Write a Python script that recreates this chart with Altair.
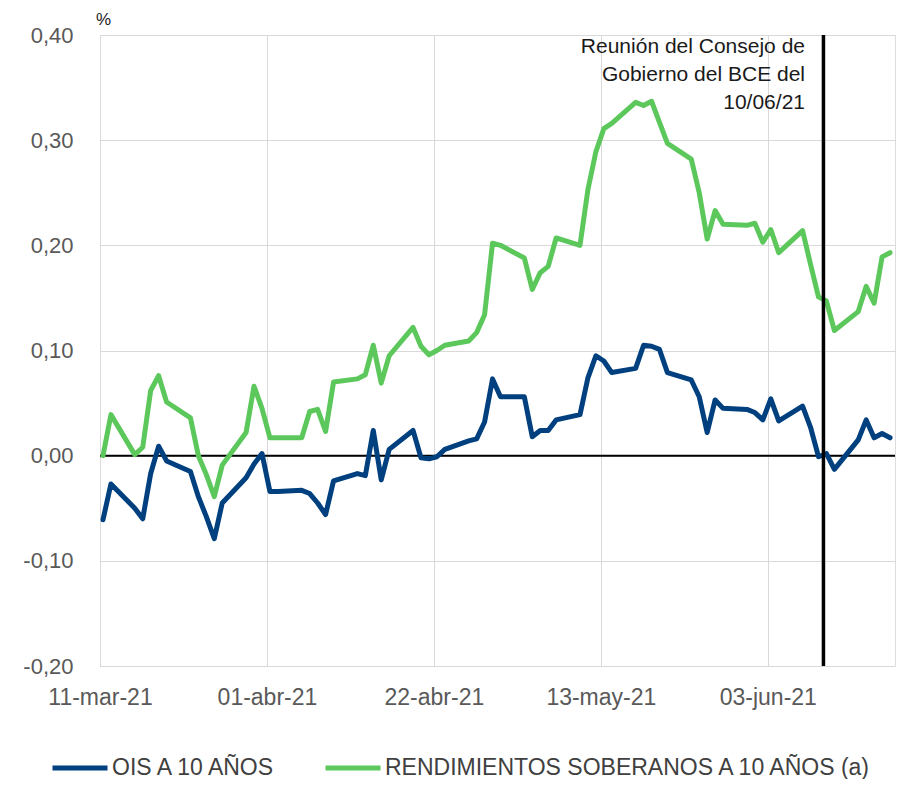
import altair as alt
import pandas as pd

fechas = [
    "2021-03-11", "2021-03-12", "2021-03-15", "2021-03-16", "2021-03-17", "2021-03-18", "2021-03-19",
    "2021-03-22", "2021-03-23", "2021-03-24", "2021-03-25", "2021-03-26",
    "2021-03-29", "2021-03-30", "2021-03-31", "2021-04-01", "2021-04-02",
    "2021-04-05", "2021-04-06", "2021-04-07", "2021-04-08", "2021-04-09",
    "2021-04-12", "2021-04-13", "2021-04-14", "2021-04-15", "2021-04-16",
    "2021-04-19", "2021-04-20", "2021-04-21", "2021-04-22", "2021-04-23",
    "2021-04-26", "2021-04-27", "2021-04-28", "2021-04-29", "2021-04-30",
    "2021-05-03", "2021-05-04", "2021-05-05", "2021-05-06", "2021-05-07",
    "2021-05-10", "2021-05-11", "2021-05-12", "2021-05-13", "2021-05-14",
    "2021-05-17", "2021-05-18", "2021-05-19", "2021-05-20", "2021-05-21",
    "2021-05-24", "2021-05-25", "2021-05-26", "2021-05-27", "2021-05-28",
    "2021-05-31", "2021-06-01", "2021-06-02", "2021-06-03", "2021-06-04",
    "2021-06-07", "2021-06-08", "2021-06-09", "2021-06-10", "2021-06-11",
    "2021-06-14", "2021-06-15", "2021-06-16", "2021-06-17", "2021-06-18",
]

ois_10a = [
    -0.061, -0.027, -0.050, -0.060, -0.017, 0.009, -0.005,
    -0.015, -0.039, -0.058, -0.079, -0.045,
    -0.021, -0.008, 0.002, -0.034, -0.034,
    -0.033, -0.036, -0.045, -0.056, -0.024,
    -0.017, -0.019, 0.024, -0.023, 0.006,
    0.024, -0.002, -0.003, -0.001, 0.006,
    0.014, 0.016, 0.032, 0.073, 0.056,
    0.056, 0.018, 0.024, 0.024, 0.034,
    0.039, 0.074, 0.095, 0.090, 0.079,
    0.083, 0.105, 0.104, 0.101, 0.079,
    0.072, 0.056, 0.022, 0.053, 0.045,
    0.044, 0.041, 0.034, 0.054, 0.033,
    0.047, 0.027, -0.001, 0.002, -0.013,
    0.015, 0.034, 0.017, 0.021, 0.017,
]

soberanos_10a = [
    0.000, 0.039, 0.001, 0.008, 0.062, 0.076, 0.051,
    0.036, 0.000, -0.018, -0.039, -0.009,
    0.022, 0.066, 0.045, 0.017, 0.017,
    0.017, 0.042, 0.044, 0.023, 0.070,
    0.073, 0.077, 0.105, 0.069, 0.095,
    0.122, 0.104, 0.096, 0.100, 0.105,
    0.109, 0.117, 0.134, 0.202, 0.200,
    0.188, 0.158, 0.174, 0.180, 0.207,
    0.200, 0.253, 0.289, 0.311, 0.316,
    0.336, 0.333, 0.337, 0.317, 0.297,
    0.282, 0.250, 0.206, 0.233, 0.220,
    0.219, 0.221, 0.203, 0.215, 0.193,
    0.214, 0.182, 0.151, 0.147, 0.119,
    0.137, 0.161, 0.145, 0.189, 0.193,
]

series = ["OIS A 10 AÑOS", "RENDIMIENTOS SOBERANOS A 10 AÑOS (a)"]
colores = ["#00407f", "#5cc85c"]

y_ticks = [-0.2, -0.1, 0.0, 0.1, 0.2, 0.3, 0.4]
x_ticks = ["2021-03-11", "2021-04-01", "2021-04-22", "2021-05-13", "2021-06-03"]
x_tick_labels = ["11-mar-21", "01-abr-21", "22-abr-21", "13-may-21", "03-jun-21"]
x_domain = ["2021-03-11", "2021-06-19"]
fecha_reunion = "2021-06-10"
nota = ["Reunión del Consejo de", "Gobierno del BCE del", "10/06/21"]
unidad = "%"

FONT = "Liberation Sans"


def ms(s):
    return int(pd.Timestamp(s, tz="UTC").timestamp() * 1000)


rows = []
for f, a, b in zip(fechas, ois_10a, soberanos_10a):
    rows.append({"fecha": f + "T09:00:00Z", "serie": series[0], "valor": a})
    rows.append({"fecha": f + "T09:00:00Z", "serie": series[1], "valor": b})
df = pd.DataFrame(rows)

x_label_expr = (
    "[" + ",".join("'" + l + "'" for l in x_tick_labels) + "]"
    + "[indexof([" + ",".join("'" + t + "'" for t in x_ticks) + "], utcFormat(datum.value, '%Y-%m-%d'))]"
)
y_label_expr = "replace(replace(format(datum.value, '.2f'), '.', ','), '\u2212', '-')"

x_scale = alt.Scale(type="utc", domain=[ms(d) for d in x_domain], nice=False)
y_scale = alt.Scale(domain=[y_ticks[0], y_ticks[-1]], nice=False, zero=False)

x_axis = alt.Axis(
    values=[ms(t) for t in x_ticks], labelExpr=x_label_expr, title=None,
    grid=True, gridColor="#d9d9d9", gridWidth=1, ticks=False,
    domain=True, domainColor="#d9d9d9", labelPadding=20,
    labelFontSize=23, labelColor="#595959", labelFont=FONT,
    labelFlush=False, labelOverlap=False, labelBound=False,
)
y_axis = alt.Axis(
    values=y_ticks, labelExpr=y_label_expr, title=None,
    grid=True, gridColor="#d9d9d9", gridWidth=1, ticks=False,
    domain=True, domainColor="#d9d9d9", labelPadding=27,
    labelFontSize=22, labelColor="#595959", labelFont=FONT,
)

lines = alt.Chart(df).mark_line(strokeWidth=5, strokeCap="round", strokeJoin="round").encode(
    x=alt.X("fecha:T", scale=x_scale, axis=x_axis),
    y=alt.Y("valor:Q", scale=y_scale, axis=y_axis),
    color=alt.Color(
        "serie:N",
        scale=alt.Scale(domain=series, range=colores),
        sort=series,
        legend=alt.Legend(
            orient="none", legendX=-50, legendY=703, direction="horizontal",
            title=None, symbolType="stroke", symbolSize=3025, symbolStrokeWidth=5,
            labelFontSize=23, labelFont=FONT, labelColor="#404040", labelOffset=2,
            columnPadding=38, labelLimit=0,
        ),
    ),
    detail="serie:N",
)

cero = alt.Chart(pd.DataFrame({"y": [0.0]})).mark_rule(color="black", strokeWidth=2).encode(
    y=alt.Y("y:Q", scale=y_scale)
)

reunion = alt.Chart(pd.DataFrame({"fecha": [fecha_reunion + "T00:00:00Z"]})).mark_rule(
    color="black", strokeWidth=3.5
).encode(x=alt.X("fecha:T", scale=x_scale))

texto = alt.Chart(pd.DataFrame({"t": ["\n".join(nota)]})).mark_text(
    align="right", baseline="alphabetic", fontSize=21, lineHeight=28,
    font=FONT, color="#1a1a1a", lineBreak="\n",
).encode(text="t:N", x=alt.value(705), y=alt.value(18))

pct = alt.Chart(pd.DataFrame({"t": [unidad]})).mark_text(
    align="left", baseline="middle", fontSize=17, font=FONT, color="#1a1a1a",
).encode(text="t:N", x=alt.value(-4), y=alt.value(-15))

chart = alt.layer(cero, lines, reunion, texto, pct).properties(
    width=795, height=631,
    autosize=alt.AutoSizeParams(type="none"),
    padding={"left": 92, "top": 27, "right": 19, "bottom": 113},
).configure_view(stroke=None).configure(background="white")

chart.save("out.html", embed_options={"renderer": "svg", "actions": False})
